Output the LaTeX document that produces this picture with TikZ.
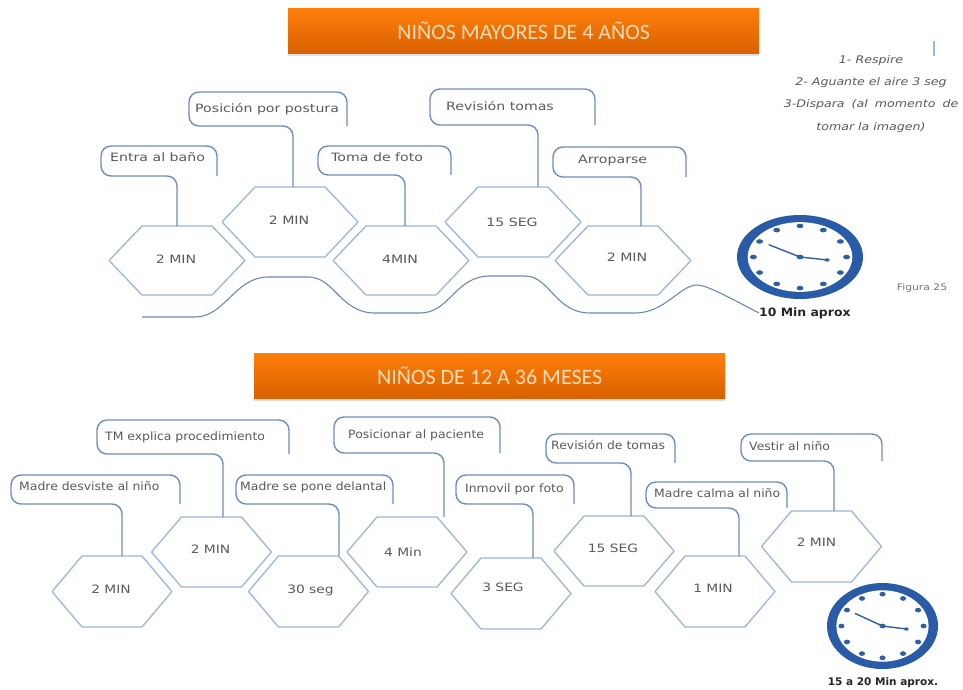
\documentclass[tikz,border=0pt]{standalone}
\usepackage{fontspec}
\usetikzlibrary{calc,shadows}
\setmainfont{DejaVu Sans}
\newfontfamily\bannerfont{Carlito}
\newfontfamily\wideA[FakeStretch=1.23]{DejaVu Sans}
\newfontfamily\wideB[FakeStretch=1.08]{DejaVu Sans}
\newfontfamily\wideC[FakeStretch=1.2]{DejaVu Sans}
\definecolor{hexline}{HTML}{9DB6D3}
\definecolor{connline}{HTML}{6F8DBB}
\definecolor{waveline}{HTML}{6C88B4}
\definecolor{greytext}{HTML}{5A5A5A}
\definecolor{rimblue}{HTML}{2A5BA6}
\definecolor{dotblue}{HTML}{2F5F9F}
\definecolor{bantop}{HTML}{FF7F0C}
\definecolor{banbot}{HTML}{D96100}
\definecolor{bantext}{HTML}{FCDDB8}
\newcommand{\labfont}{\wideA}
\newcommand{\timefont}{\wideA}
\tikzset{
  hexbox/.style={inner sep=0pt,outer sep=0pt},
  hexpath/.style={draw=hexline,line width=1.3pt,line join=round},
  labbox/.style={inner sep=0pt,outer sep=0pt},
  conn/.style={draw=connline,line width=1.4pt,rounded corners=10pt},
  labtxt/.style={anchor=west,inner sep=0pt,text=greytext,font=\labfont\fontsize{11.5}{13}\selectfont,text height=8pt,text depth=0pt},
  timetxt/.style={inner sep=0pt,text=greytext,font=\timefont\fontsize{11.5}{13}\selectfont,text height=8pt,text depth=0pt},
  banner/.style={anchor=north west,inner sep=0pt,top color=bantop,bottom color=banbot,drop shadow={shadow xshift=0pt,shadow yshift=-3pt,opacity=0.25}},
  bantxt/.style={inner sep=0pt,text=bantext,font=\bannerfont\fontsize{22}{24}\selectfont},
  notetxt/.style={inner sep=0pt,text=greytext,font=\wideC\fontsize{10.5}{12}\selectfont\itshape},
  boldtxt/.style={inner sep=0pt,text=black!85,font=\fontsize{10.5}{12}\selectfont\bfseries},
  boldwide/.style={inner sep=0pt,text=black!85,font=\wideB\fontsize{11.5}{13}\selectfont\bfseries},
}
% name, cx, cy, half width, half height, inset, text dx, text dy, text
\newcommand{\hexa}[9]{%
  \node[hexbox,minimum width=#4*2pt,minimum height=#5*2pt] (#1) at (#2,#3) {};
  \draw[hexpath] (#1.west) -- ($(#1.north west)+(#6,0)$) -- ($(#1.north east)+(-#6,0)$)
     -- (#1.east) -- ($(#1.south east)+(-#6,0)$) -- ($(#1.south west)+(#6,0)$) -- cycle;
  \node[timetxt] (#1t) at ($(#1.center)+(#7,#8)$) {#9};
}
% name, x1, y1, x2, y2, text x, text y, text
\newcommand{\labl}[8]{%
  \node[labbox,minimum width=#4pt-#2pt,minimum height=#5pt-#3pt] (#1) at ({(#2+#4)/2},{(#3+#5)/2}) {};
  \node[labtxt] (#1t) at (#6,#7) {#8};
}
% hex, label, dx
\newcommand{\callout}[3]{%
  \coordinate (tmp#1) at ($(#1.north)+(#3,0)$);
  \draw[conn] (tmp#1) |- (#2.south west) -- (#2.north west) -- (#2.north east) -- (#2.south east);
}
% cx, cy, rx, ry
\newcommand{\clockface}[4]{%
  \begin{scope}[shift={(#1,#2)},xscale=#3,yscale=#4]
    \fill[rimblue] (0,0) circle [radius=1];
    \fill[white] (0,0) circle [radius=0.83];
    \foreach \a in {0,30,...,330}{\fill[dotblue] (\a:0.74) circle [radius=0.055];}
    \draw[dotblue,line width=1.4pt,line cap=round] (-0.49,-0.29) -- (0,0) -- (0.43,0.07);
    \fill[dotblue] (0,0) circle [radius=0.055];
    \fill[dotblue] (0.43,0.07) circle [radius=0.04];
  \end{scope}
}
\begin{document}
\begin{tikzpicture}[x=1pt,y=-1pt]
\useasboundingbox (0,0) rectangle (963,689);
\fill[white] (0,0) rectangle (963,689);

% banners
\node[banner,minimum width=471pt,minimum height=45pt] (ban1) at (288,8) {};
\node[bantxt] (ban1t) at (ban1.center) {NIÑOS MAYORES DE 4 AÑOS};
\node[banner,minimum width=471pt,minimum height=45pt] (ban2) at (254,353) {};
\node[bantxt] (ban2t) at (ban2.center) {NIÑOS DE 12 A 36 MESES};

% upper row
\hexa{a}{177}{260.5}{68}{34.5}{33}{-1}{-1}{2 MIN}
\hexa{b}{290}{222}{68}{35}{33}{-1}{-2}{2 MIN}
\hexa{c}{401}{260.5}{68}{34.5}{33}{-1}{-1}{4MIN}
\hexa{d}{513}{222}{68}{35}{33}{-1}{0}{15 SEG}
\hexa{e}{623}{260.5}{68}{34.5}{33}{4}{-3}{2 MIN}
\labl{la}{101}{146}{217}{176}{110}{157}{Entra al baño}
\labl{lb}{189}{92}{347}{126}{195}{108}{Posición por postura}
\labl{lc}{318}{146}{451}{175}{331}{157}{Toma de foto}
\labl{ld}{430}{89}{595}{125}{446}{106}{Revisión tomas}
\labl{le}{553}{147}{686}{177}{578}{159}{Arroparse}
\callout{a}{la}{0}
\callout{b}{lb}{3}
\callout{c}{lc}{4}
\callout{d}{ld}{25}
\callout{e}{le}{18}

% wave
\node[boldwide,anchor=west] (ten) at (759,313) {10 Min aprox};
\coordinate (wavestart) at (142,317);
\draw[waveline,line width=1.1pt] (wavestart) -- (195,317)
  .. controls (225,317) and (235,277) .. (268,277) -- (308,277)
  .. controls (335,277) and (340,313) .. (375,313) -- (420,313)
  .. controls (450,313) and (455,276) .. (490,276) -- (525,276)
  .. controls (550,276) and (555,313) .. (590,313) -- (635,313)
  .. controls (665,313) and (680,285) .. (697,285)
  .. controls (707,285) and (730,298) .. (ten.west);

% lower row
\renewcommand{\labfont}{\wideB}
\renewcommand{\timefont}{\wideC}
\hexa{p}{112}{591.5}{60}{35.5}{30}{-1}{-2}{2 MIN}
\hexa{q}{211.5}{552}{60}{35}{30}{-1}{-3}{2 MIN}
\hexa{r}{308.5}{591.5}{60}{35.5}{30}{2}{-2}{30 seg}
\hexa{s}{407}{552}{60}{35}{30}{-4}{0}{4 Min}
\hexa{t}{511}{593.5}{60}{35.5}{30}{-8}{-6}{3 SEG}
\hexa{u}{614}{551}{60}{35}{30}{-1}{-3}{15 SEG}
\hexa{v}{715}{591.5}{60}{35.5}{30}{-2}{-3}{1 MIN}
\hexa{w}{821.5}{546.5}{60}{35.5}{30}{-5}{-4}{2 MIN}
\labl{lp}{11}{475}{180}{504}{19}{486}{Madre desviste al niño}
\labl{lq}{97}{420}{289}{454}{105}{436}{TM explica procedimiento}
\labl{lr}{236}{475}{393}{504}{240}{486}{Madre se pone delantal}
\labl{ls}{334}{417}{500}{453}{348}{434}{Posicionar al paciente}
\labl{lt}{456}{475}{574}{504}{465}{488}{Inmovil por foto}
\labl{lu}{546}{434}{675}{463}{551}{445}{Revisión de tomas}
\labl{lv}{646}{482}{787}{508}{654}{493}{Madre calma al niño}
\labl{lw}{741}{434}{882}{461}{749}{446}{Vestir al niño}
\callout{p}{lp}{10}
\callout{q}{lq}{11.5}
\callout{r}{lr}{30.5}
\callout{s}{ls}{37}
\callout{t}{lt}{22}
\callout{u}{lu}{17}
\callout{v}{lv}{24}
\callout{w}{lw}{12.5}

% clocks
\clockface{800}{257}{63}{42}
\clockface{882.5}{626}{55.5}{43}
\node[boldtxt] (fifteen) at (883,683) {15 a 20 Min aprox.};

% note
\node[notetxt] (n1) at (871,61) {1- Respire};
\node[notetxt] (n2) at (871,83) {2- Aguante el aire 3 seg};
\node[notetxt] (n3) at (871,105) {3-Dispara\hspace{3pt} (al\hspace{3pt} momento\hspace{3pt} de};
\node[notetxt] (n4) at (871,128) {tomar la imagen)};
\coordinate (marka) at (934,41);
\coordinate (markb) at (934,56);
\draw[hexline,line width=1.3pt] (marka) -- (markb);
\node[inner sep=0pt,text=black!55,font=\wideC\fontsize{9}{11}\selectfont] (fig) at (922,288) {Figura 25};
\end{tikzpicture}
\end{document}
